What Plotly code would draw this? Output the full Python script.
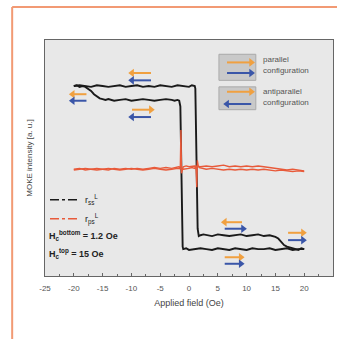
import plotly.graph_objects as go

# ---------------- data ----------------
# black loop, branch sweeping up (-20 -> +20)
blk_up_x = [-20, -19.5, -19, -18.5, -18, -17.5, -17, -16.5, -16, -15.5, -15, -14.5, -14,
            -13, -12, -11, -10, -9, -8, -7, -6, -5, -4, -3,
            -2.5, -2, -1.7, -1.5, -1.4, -1.3, -1.2, -1.1, -1.0, -0.5,
            0, 1, 2, 3, 4, 5, 6, 7, 8, 9, 10, 11, 12, 13, 14, 15, 16, 17, 18, 19, 20]
blk_up_y = [1.00, 1.01, 0.99, 1.00, 0.99, 0.97, 0.94, 0.90, 0.87, 0.85, 0.84, 0.83, 0.84,
            0.82, 0.83, 0.84, 0.82, 0.83, 0.84, 0.83, 0.82, 0.83, 0.84, 0.83,
            0.82, 0.83, 0.82, 0.75, 0.30, -0.30, -0.80, -0.97, -1.00, -0.99,
            -1.01, -1.00, -0.99, -1.00, -1.01, -0.99, -1.00, -1.01, -0.99, -1.00, -1.01,
            -0.99, -1.00, -1.00, -0.99, -1.01, -1.00, -0.99, -1.01, -1.00, -1.00]
# black loop, branch sweeping down (+20 -> -20)
blk_dn_x = [20, 19.5, 19, 18.5, 18, 17.5, 17, 16.5, 16, 15.5, 15, 14.5, 14,
            13, 12, 11, 10, 9, 8, 7, 6, 5, 4, 3,
            2.5, 2, 1.7, 1.5, 1.4, 1.3, 1.2, 1.1, 1.0, 0.5,
            0, -1, -2, -3, -4, -5, -6, -7, -8, -9, -10, -11, -12, -13, -14, -15, -16, -17, -18, -19, -20]
blk_dn_y = [-1.00, -0.99, -1.01, -1.00, -0.99, -0.98, -0.97, -0.95, -0.91, -0.87, -0.85, -0.84, -0.83,
            -0.84, -0.82, -0.83, -0.84, -0.82, -0.83, -0.84, -0.83, -0.82, -0.84, -0.83,
            -0.82, -0.83, -0.84, -0.75, -0.30, 0.30, 0.80, 0.97, 1.00, 1.01,
            0.99, 1.00, 1.01, 0.99, 1.00, 1.01, 0.99, 1.00, 0.99, 1.01, 1.00,
            0.99, 1.01, 1.00, 0.99, 1.00, 1.01, 0.99, 1.00, 1.01, 1.00]

# red curve, branch up
red_up_x = [-20, -19, -18, -17, -16, -15, -14, -13, -12, -11, -10, -9, -8, -7, -6, -5, -4, -3, -2,
            -1.8, -1.6, -1.5, -1.45, -1.4, -1.35, -1.3, -1.2, -1.0, -0.5,
            0, 1, 2, 3, 4, 5, 6, 7, 8, 9, 10, 11, 12, 13, 14, 15, 16, 17, 18, 19, 20]
red_up_y = [-0.02, -0.01, -0.03, -0.02, -0.01, -0.02, -0.03, -0.01, -0.02, -0.01, -0.02, -0.01, -0.02,
            -0.01, 0.00, -0.01, 0.00, -0.01, 0.00,
            0.01, 0.00, 0.03, 0.25, 0.46, 0.20, -0.07, -0.04, 0.01, 0.02,
            0.01, 0.02, 0.01, 0.02, 0.01, 0.02, 0.03, 0.01, 0.02, 0.01, 0.02, 0.01, 0.02, 0.01,
            0.00, -0.01, -0.02, -0.03, -0.02, -0.03, -0.04]
# red curve, branch down
red_dn_x = [20, 19, 18, 17, 16, 15, 14, 13, 12, 11, 10, 9, 8, 7, 6, 5, 4, 3, 2,
            1.8, 1.6, 1.5, 1.45, 1.4, 1.35, 1.3, 1.2, 1.0, 0.5,
            0, -1, -2, -3, -4, -5, -6, -7, -8, -9, -10, -11, -12, -13, -14, -15, -16, -17, -18, -19, -20]
red_dn_y = [-0.05, -0.04, -0.05, -0.04, -0.03, -0.04, -0.03, -0.02, -0.03, -0.02, -0.03, -0.02, -0.03,
            -0.02, -0.03, -0.02, -0.01, -0.02, -0.01,
            0.00, 0.02, 0.05, 0.09, -0.05, -0.24, -0.12, 0.02, -0.01, 0.00,
            -0.01, -0.02, -0.01, -0.02, -0.03, -0.02, -0.01, -0.02, -0.03, -0.02, -0.01, -0.02,
            -0.03, -0.02, -0.01, -0.02, -0.03, -0.02, -0.01, -0.02, -0.03]

x_ticks = [-25, -20, -15, -10, -5, 0, 5, 10, 15, 20, 25]
x_tick_text = ["-25", "-20", "-15", "-10", "-5", "0", "5", "10", "15", "20", "25"]

legend_names = ["r<sub>ss</sub><sup>L</sup>", "r<sub>ps</sub><sup>L</sup>"]
hc_labels = ["<b>H<sub>c</sub><sup>bottom</sup> = 1.2 Oe</b>", "<b>H<sub>c</sub><sup>top</sup> = 15 Oe</b>"]
config_labels = ["parallel", "configuration", "antiparallel", "configuration"]

ORANGE = "#f0a040"
BLUE = "#3a56a8"
BLACK = "#1a1a1a"
RED = "#e85a3a"

fig = go.Figure()
for xs, ys in [(blk_up_x, blk_up_y), (blk_dn_x, blk_dn_y)]:
    fig.add_trace(go.Scatter(x=xs, y=ys, mode="lines", showlegend=False,
                             line=dict(color=BLACK, width=1.9)))
for xs, ys in [(red_up_x, red_up_y), (red_dn_x, red_dn_y)]:
    fig.add_trace(go.Scatter(x=xs, y=ys, mode="lines", showlegend=False,
                             line=dict(color=RED, width=1.4)))
# legend-only entries
fig.add_trace(go.Scatter(x=[None], y=[None], mode="lines", name=legend_names[0],
                         line=dict(color=BLACK, width=1.5, dash="dashdot")))
fig.add_trace(go.Scatter(x=[None], y=[None], mode="lines", name=legend_names[1],
                         line=dict(color=RED, width=1.5, dash="dashdot")))

# magnetisation arrows: (tail_x, head_x, y, colour)
arrows = [
    (-6.6, -9.9, 1.16, ORANGE), (-6.6, -9.9, 1.07, BLUE),
    (-9.9, -6.6, 0.71, ORANGE), (-6.6, -9.9, 0.62, BLUE),
    (-17.8, -20.2, 0.90, ORANGE), (-17.8, -20.2, 0.82, BLUE),
    (9.2, 6.2, -0.67, ORANGE), (6.2, 9.4, -0.75, BLUE),
    (17.2, 19.8, -0.80, ORANGE), (17.2, 19.8, -0.89, BLUE),
    (6.2, 9.0, -1.10, ORANGE), (6.2, 9.0, -1.18, BLUE),
    # legend boxes
    (6.6, 10.8, 1.29, ORANGE), (6.6, 10.8, 1.16, BLUE),
    (6.6, 10.8, 0.93, ORANGE), (10.8, 6.6, 0.78, BLUE),
]
for col in (ORANGE, BLUE):
    lx, ly = [], []
    for x0, x1, yy, c in arrows:
        if c == col:
            lx += [x0, x1, None]
            ly += [yy, yy, None]
    fig.add_trace(go.Scatter(x=lx, y=ly, mode="lines", showlegend=False,
                             hoverinfo="skip", line=dict(color=col, width=2)))
fig.add_trace(go.Scatter(
    x=[a[1] for a in arrows], y=[a[2] for a in arrows], mode="markers", showlegend=False,
    hoverinfo="skip",
    marker=dict(symbol="triangle-up", size=7.5,
                angle=[90 if a[1] > a[0] else -90 for a in arrows],
                color=[a[3] for a in arrows], line=dict(width=0))))

annotations = []
cfg_y = [1.33, 1.19, 0.93, 0.80]
for t, yy in zip(config_labels, cfg_y):
    annotations.append(dict(x=12.5, y=yy, xref="x", yref="y", text=t, showarrow=False,
                            xanchor="left", font=dict(size=8, color="#555")))

for t, yy in zip(hc_labels, [-0.83, -1.05]):
    annotations.append(dict(x=-24.6, y=yy, xref="x", yref="y", text=t, showarrow=False,
                            xanchor="left", font=dict(size=9, color="#222")))

shapes = [
    dict(type="rect", xref="x", yref="y", x0=5.2, x1=11.6, y0=1.07, y1=1.39,
         fillcolor="#c9c9c9", line=dict(color="#aaa", width=1), layer="below"),
    dict(type="rect", xref="x", yref="y", x0=5.2, x1=11.6, y0=0.71, y1=0.99,
         fillcolor="#c9c9c9", line=dict(color="#aaa", width=1), layer="below"),
    # orange frame
    dict(type="line", xref="paper", yref="paper", x0=-0.114, x1=-0.114, y0=1.14, y1=-0.27,
         line=dict(color="#f29a74", width=2)),
    dict(type="line", xref="paper", yref="paper", x0=-0.114, x1=1.02, y0=1.14, y1=1.14,
         line=dict(color="#f29a74", width=2)),
]

fig.update_layout(
    width=337, height=339,
    margin=dict(l=45, r=4, t=40, b=63),
    paper_bgcolor="white", plot_bgcolor="#e8e8e8",
    font=dict(family="Liberation Sans, Arial, sans-serif", color="#444"),
    annotations=annotations, shapes=shapes,
    legend=dict(x=0.0, y=0.385, xanchor="left", yanchor="top", bgcolor="rgba(0,0,0,0)",
                font=dict(size=9, color="#222"), itemwidth=30, tracegroupgap=0),
)
fig.update_xaxes(range=[-25, 25], tickvals=x_ticks, ticktext=x_tick_text,
                 ticks="inside", ticklen=3, tickcolor="#666",
                 minor=dict(ticks="inside", ticklen=2, dtick=2.5, tickcolor="#666"),
                 showline=True, linecolor="#666", linewidth=1, mirror=True,
                 showgrid=False, zeroline=False, tickfont=dict(size=8, color="#555"),
                 ticklabelstandoff=4,
                 title=dict(text="Applied field (Oe)", font=dict(size=9, color="#444"), standoff=8))
fig.update_yaxes(range=[-1.33, 1.565], showticklabels=False, ticks="",
                 showline=True, linecolor="#666", linewidth=1, mirror=True,
                 showgrid=False, zeroline=False,
                 title=dict(text="MOKE intensity [a. u.]", font=dict(size=8, color="#444"), standoff=10))

fig.write_html("out.html", config={"displayModeBar": False},
               post_script="document.body.style.margin='0';")
